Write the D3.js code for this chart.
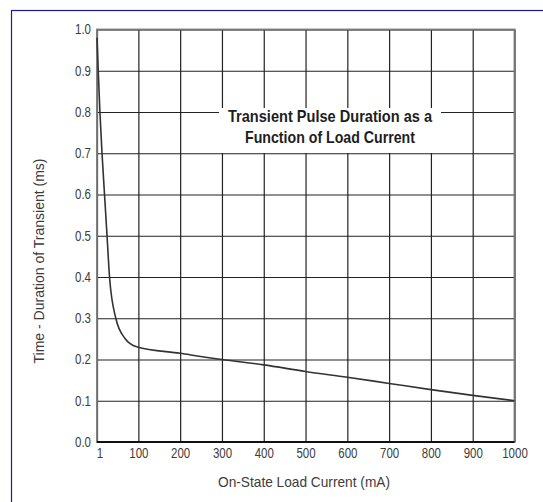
<!DOCTYPE html>
<html>
  <head>
    <meta charset="utf-8">
    <title>Transient Pulse Duration</title>
    <script src="https://cdn.jsdelivr.net/npm/d3@7"></script>
    <style>
      body { margin: 0; background: #ffffff; }
      .tick text { font-family: "Liberation Sans", Arial, sans-serif; font-size: 14px; fill: #3c3c3c; }
    </style>
  </head>
  <body>
    <svg width="543" height="502" id="mainsvg"></svg>
    <script>
        // data
        const currents = [1, 4, 8, 13, 19, 25, 31, 46, 68, 96, 200, 300, 400, 500, 600, 700, 800, 900, 1000];
        const durations = [0.98, 0.9, 0.8, 0.7, 0.6, 0.5, 0.4, 0.3, 0.251, 0.231, 0.215, 0.2, 0.187, 0.171, 0.157, 0.142, 0.127, 0.113, 0.1];
        const xTicks = [1, 100, 200, 300, 400, 500, 600, 700, 800, 900, 1000];
        const yTicks = [0.0, 0.1, 0.2, 0.3, 0.4, 0.5, 0.6, 0.7, 0.8, 0.9, 1.0];
        const titleLines = ['Transient Pulse Duration as a', 'Function of Load Current'];
        const xAxisLabel = 'On-State Load Current (mA)';
        const yAxisLabel = 'Time - Duration of Transient (ms)';

        const svg = d3.select('#mainsvg');
        const width = +svg.attr('width');
        const height = +svg.attr('height');
        const margin = {top: 29.5, right: 28.5, bottom: 60, left: 97};
        const innerWidth = width - margin.left - margin.right;
        const innerHeight = height - margin.top - margin.bottom;
        const font = '"Liberation Sans", Arial, sans-serif';

        // no narrow font installed, so squeeze the glyphs with textLength
        const condense = function(sel, factor){
            sel.each(function(){
                const len = this.getComputedTextLength();
                d3.select(this)
                  .attr('textLength', len * factor)
                  .attr('lengthAdjust', 'spacingAndGlyphs');
            });
        };

        // blue frame round the picture
        svg.append('rect')
          .attr('x', 11.5).attr('y', 10.5)
          .attr('width', 700).attr('height', 700)
          .attr('fill', 'none')
          .attr('stroke', '#1a1aa6')
          .attr('stroke-width', 1.2);

        const xScale = d3.scaleLinear().domain([1, 1000]).range([0, innerWidth]);
        const yScale = d3.scaleLinear().domain([0, 1]).range([innerHeight, 0]);

        const g = svg.append('g')
          .attr('transform', `translate(${margin.left}, ${margin.top})`);

        // grid via axes
        const xAxis = d3.axisBottom(xScale)
          .tickValues(xTicks)
          .tickFormat(d3.format('d'))
          .tickSize(-innerHeight)
          .tickPadding(8);
        const yAxis = d3.axisLeft(yScale)
          .tickValues(yTicks)
          .tickFormat(d3.format('.1f'))
          .tickSize(-innerWidth)
          .tickPadding(6);

        const yAxisGroup = g.append('g').call(yAxis);
        yAxisGroup.selectAll('.domain').remove();
        yAxisGroup.selectAll('.tick line').attr('stroke', '#222222').attr('stroke-width', 1.2);
        condense(yAxisGroup.selectAll('.tick text'), 0.82);

        const xAxisGroup = g.append('g').call(xAxis)
          .attr('transform', `translate(0, ${innerHeight})`);
        xAxisGroup.selectAll('.domain').remove();
        xAxisGroup.selectAll('.tick line').attr('stroke', '#222222').attr('stroke-width', 1.2);
        xAxisGroup.selectAll('.tick text').attr('dy', '0.58em');
        xAxisGroup.selectAll('.tick text').filter(d => d === 1).attr('x', 2.5);
        condense(xAxisGroup.selectAll('.tick text'), 0.82);

        // outer box
        g.append('rect')
          .attr('x', 0).attr('y', 0)
          .attr('width', innerWidth).attr('height', innerHeight)
          .attr('fill', 'none')
          .attr('stroke', '#777777')
          .attr('stroke-width', 1.8);
        g.append('line')
          .attr('x1', 0).attr('x2', innerWidth)
          .attr('y1', innerHeight).attr('y2', innerHeight)
          .attr('stroke', '#111111')
          .attr('stroke-width', 1.8);

        // title with white backing that hides the grid
        const titleX = 330 - margin.left;
        const titleWidths = [204, 170];
        g.append('rect')
          .attr('x', 219 - margin.left).attr('y', 108 - margin.top)
          .attr('width', 222).attr('height', 45)
          .attr('fill', '#ffffff');
        g.selectAll('.title_text')
          .data(titleLines)
          .enter().append('text')
          .attr('class', 'title_text')
          .attr('x', titleX)
          .attr('y', (d, i) => 121.5 - margin.top + i * 21.5)
          .attr('text-anchor', 'middle')
          .attr('font-family', font)
          .attr('font-weight', 'bold')
          .attr('font-size', '17px')
          .attr('fill', '#1e1e1e')
          .attr('textLength', (d, i) => titleWidths[i])
          .attr('lengthAdjust', 'spacingAndGlyphs')
          .text(d => d);

        // curve
        const points = currents.map((c, i) => [c, durations[i]]);
        const line = d3.line()
          .x(d => xScale(d[0]))
          .y(d => yScale(d[1]))
          .curve(d3.curveMonotoneX);
        g.append('path')
          .datum(points)
          .attr('d', line)
          .attr('fill', 'none')
          .attr('stroke', '#333333')
          .attr('stroke-width', 1.6);

        // axis titles
        svg.append('text')
          .attr('x', 304).attr('y', 486.5)
          .attr('text-anchor', 'middle')
          .attr('font-family', font)
          .attr('font-size', '15px')
          .attr('fill', '#3c3c3c')
          .attr('textLength', 172)
          .attr('lengthAdjust', 'spacingAndGlyphs')
          .text(xAxisLabel);
        svg.append('text')
          .attr('transform', 'translate(44, 261) rotate(-90)')
          .attr('text-anchor', 'middle')
          .attr('font-family', font)
          .attr('font-size', '15px')
          .attr('fill', '#3c3c3c')
          .attr('textLength', 205)
          .attr('lengthAdjust', 'spacingAndGlyphs')
          .text(yAxisLabel);
    </script>
  </body>
</html>
